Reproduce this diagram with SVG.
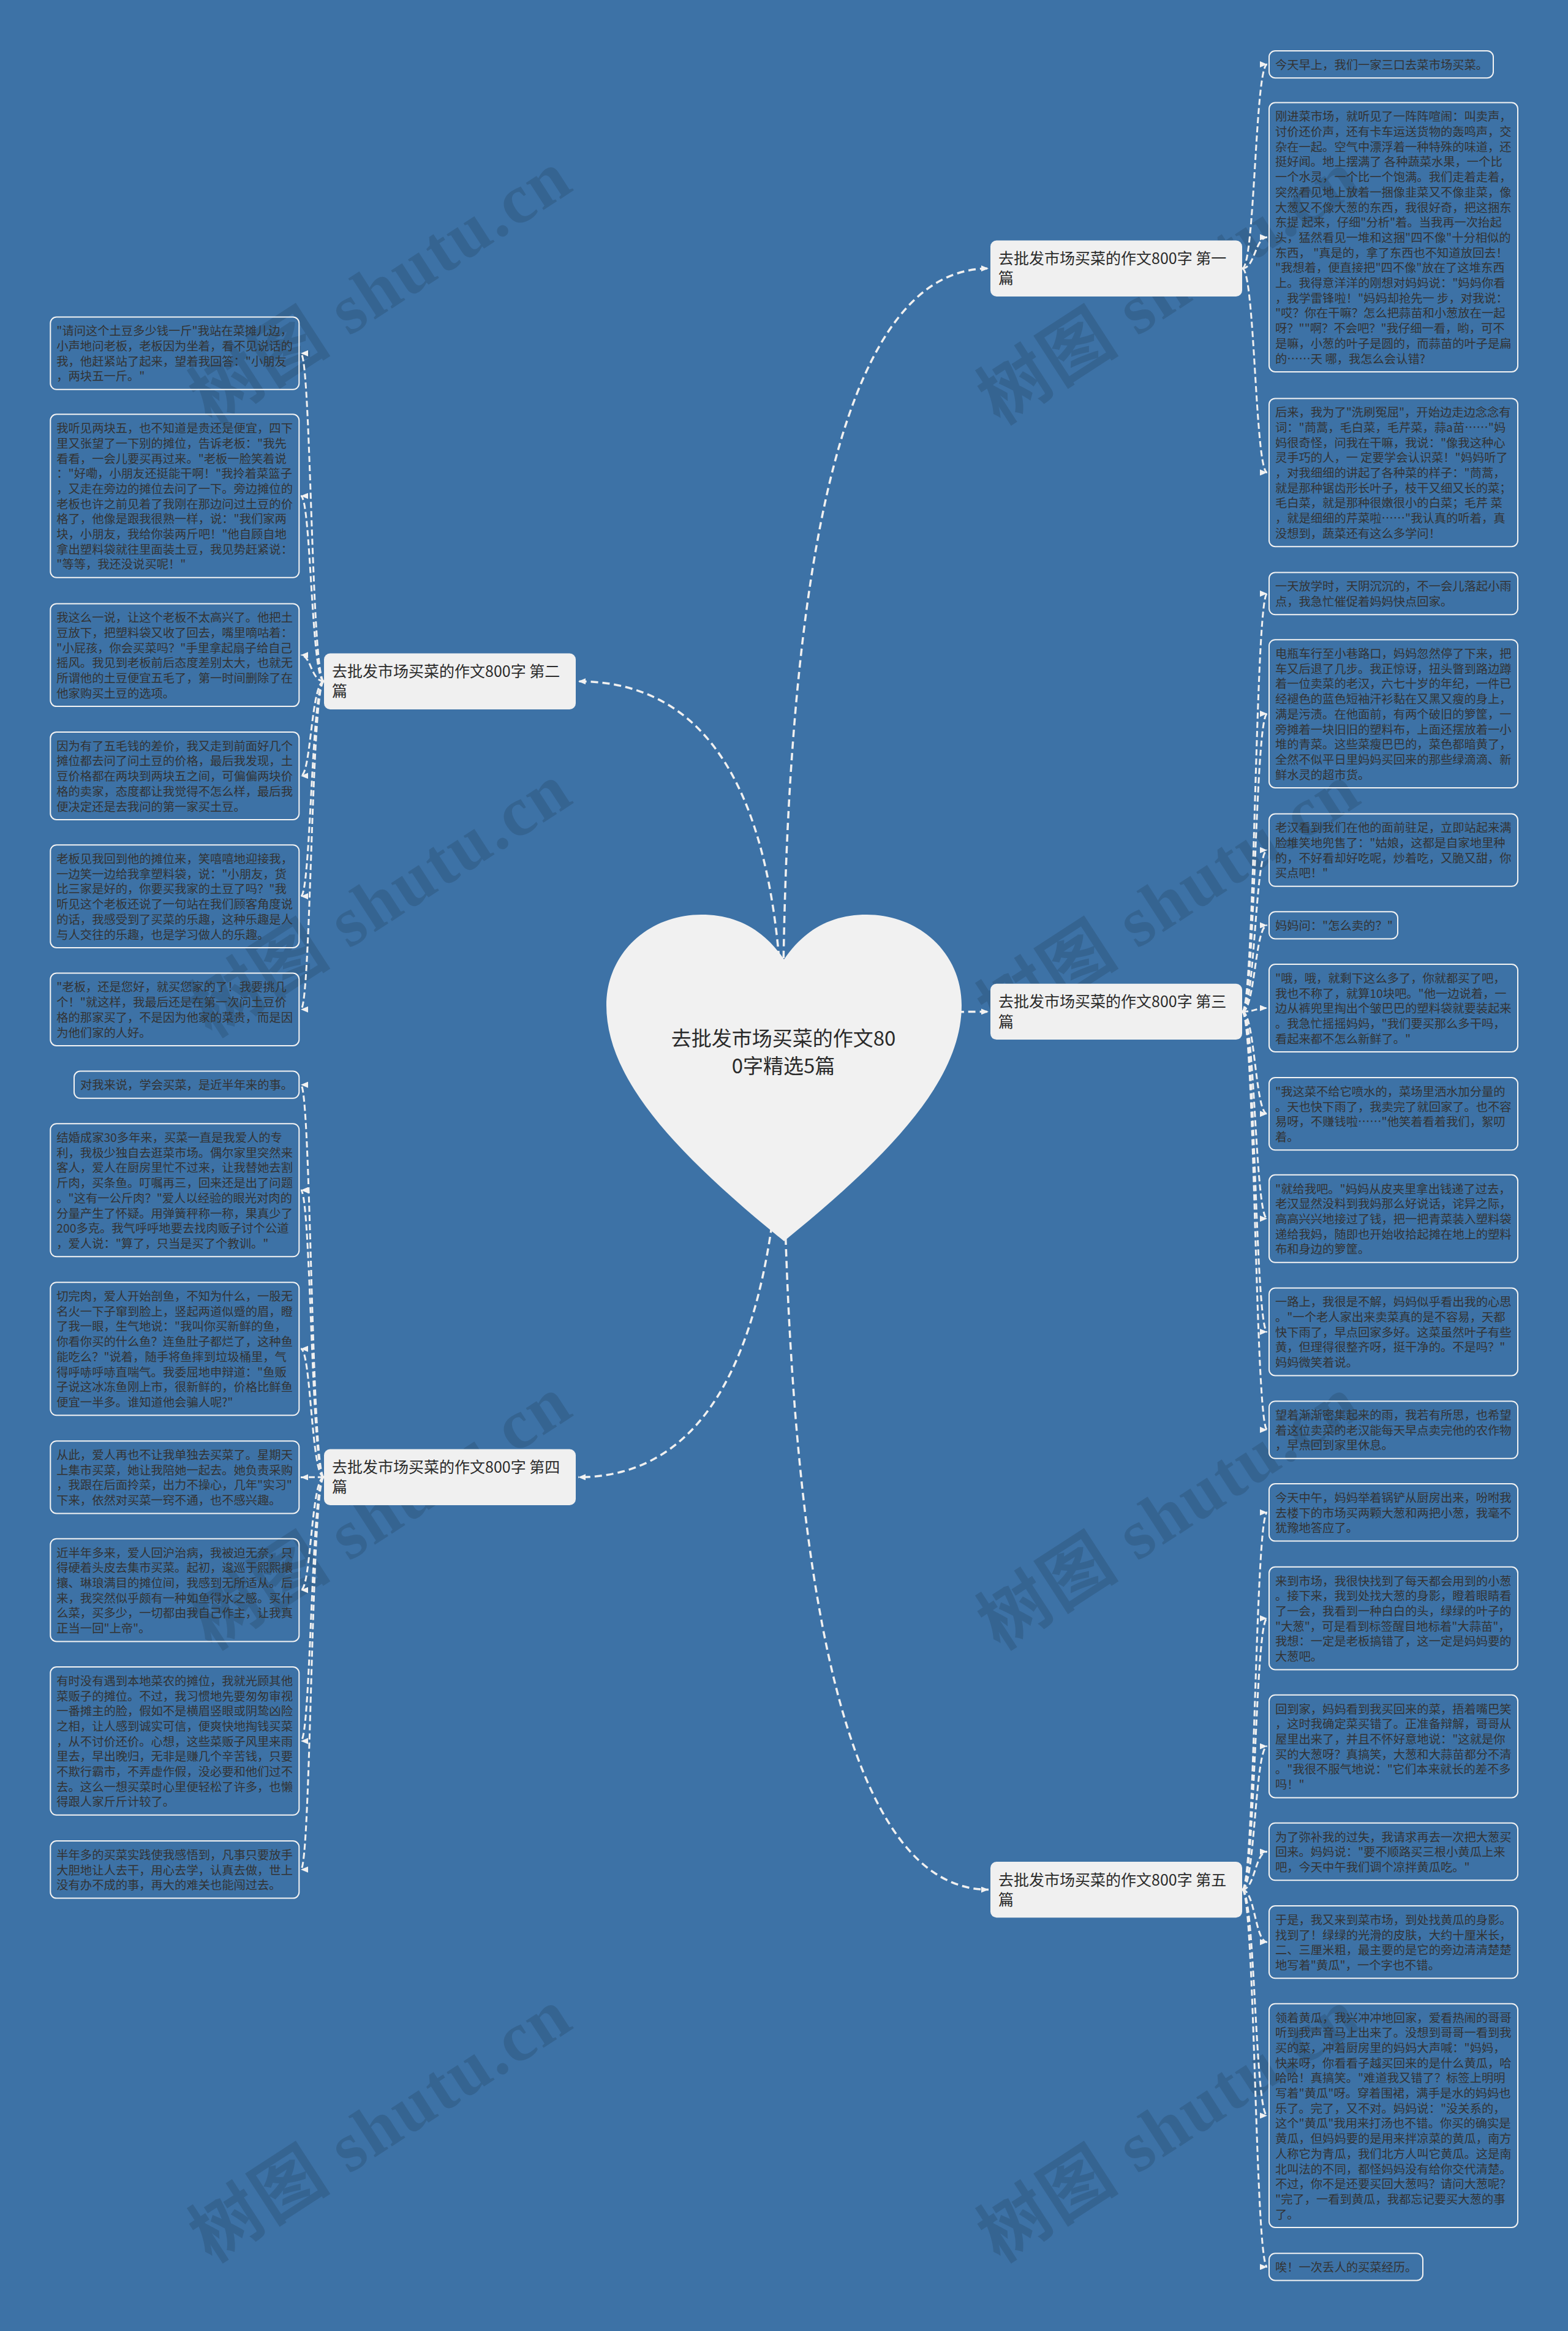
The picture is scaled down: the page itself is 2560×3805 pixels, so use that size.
<svg xmlns="http://www.w3.org/2000/svg" width="2560" height="3805" viewBox="0 0 2560 3805">
<defs>
<style>
.bg{fill:#3d72a6}
.wm{font-family:"Liberation Serif","Noto Sans CJK SC",serif;font-size:115px;font-weight:bold;fill:#000;fill-opacity:0.12;letter-spacing:3px}
.leaf rect{fill:none;stroke:#f3f3f3;stroke-width:2}
.lt{font-family:"Noto Sans CJK SC","Microsoft YaHei",sans-serif;font-size:19.3px;fill:#333}
.branch rect{fill:#f0f0f0}
.bt{font-family:"Noto Sans CJK SC",sans-serif;font-size:25px;fill:#2b2b2b}
.rt{font-family:"Noto Sans CJK SC",sans-serif;font-size:33px;fill:#2a2a2a;text-anchor:middle}
.c{fill:none;stroke:#f0f0f0;stroke-width:3;stroke-dasharray:10 5;marker-end:url(#arr)}
.cr{fill:none;stroke:#f0f0f0;stroke-width:3.5;stroke-dasharray:12 7;marker-end:url(#arr)}
</style>
<marker id="arr" viewBox="0 0 12 10" refX="12" refY="5" markerWidth="12" markerHeight="10" markerUnits="userSpaceOnUse" orient="auto"><path d="M0,0 L12,5 L0,10 z" fill="#f2f2f2"/></marker>
</defs>
<rect class="bg" x="0" y="0" width="2560" height="3805"/>
<g id="watermarks">
<text class="wm" transform="translate(345,695) rotate(-33)">树图 shutu.cn</text>
<text class="wm" transform="translate(345,1695) rotate(-33)">树图 shutu.cn</text>
<text class="wm" transform="translate(345,2695) rotate(-33)">树图 shutu.cn</text>
<text class="wm" transform="translate(345,3695) rotate(-33)">树图 shutu.cn</text>
<text class="wm" transform="translate(1632,695) rotate(-33)">树图 shutu.cn</text>
<text class="wm" transform="translate(1632,1695) rotate(-33)">树图 shutu.cn</text>
<text class="wm" transform="translate(1632,2695) rotate(-33)">树图 shutu.cn</text>
<text class="wm" transform="translate(1632,3695) rotate(-33)">树图 shutu.cn</text>
</g>
<g id="connectors">
<path class="cr" d="M1278,1716 Q1278,438.2 1614,438.2"/>
<path class="cr" d="M1278,1716 Q1278,1651.4 1614,1651.4"/>
<path class="cr" d="M1278,1716 Q1278,3084.6 1614,3084.6"/>
<path class="cr" d="M1278,1716 Q1278,1112.2 944,1112.2"/>
<path class="cr" d="M1278,1716 Q1278,2411.3 944,2411.3"/>
<path class="c" d="M2028,438.2 C2049,438.2 2049,105.1 2069,105.1"/>
<path class="c" d="M2028,438.2 C2049,438.2 2049,387.2 2069,387.2"/>
<path class="c" d="M2028,438.2 C2049,438.2 2049,771.3 2069,771.3"/>
<path class="c" d="M2028,1651.4 C2049,1651.4 2049,968.9 2069,968.9"/>
<path class="c" d="M2028,1651.4 C2049,1651.4 2049,1165.1 2069,1165.1"/>
<path class="c" d="M2028,1651.4 C2049,1651.4 2049,1387.7 2069,1387.7"/>
<path class="c" d="M2028,1651.4 C2049,1651.4 2049,1510.4 2069,1510.4"/>
<path class="c" d="M2028,1651.4 C2049,1651.4 2049,1645.5 2069,1645.5"/>
<path class="c" d="M2028,1651.4 C2049,1651.4 2049,1818.2 2069,1818.2"/>
<path class="c" d="M2028,1651.4 C2049,1651.4 2049,1989.3 2069,1989.3"/>
<path class="c" d="M2028,1651.4 C2049,1651.4 2049,2174 2069,2174"/>
<path class="c" d="M2028,1651.4 C2049,1651.4 2049,2334 2069,2334"/>
<path class="c" d="M2028,3084.6 C2049,3084.6 2049,2468.8 2069,2468.8"/>
<path class="c" d="M2028,3084.6 C2049,3084.6 2049,2641.7 2069,2641.7"/>
<path class="c" d="M2028,3084.6 C2049,3084.6 2049,2850.6 2069,2850.6"/>
<path class="c" d="M2028,3084.6 C2049,3084.6 2049,3022.5 2069,3022.5"/>
<path class="c" d="M2028,3084.6 C2049,3084.6 2049,3170.2 2069,3170.2"/>
<path class="c" d="M2028,3084.6 C2049,3084.6 2049,3453.4 2069,3453.4"/>
<path class="c" d="M2028,3084.6 C2049,3084.6 2049,3700.4 2069,3700.4"/>
<path class="c" d="M529,1112.2 C508,1112.2 508,576.7 491,576.7"/>
<path class="c" d="M529,1112.2 C508,1112.2 508,809.6 491,809.6"/>
<path class="c" d="M529,1112.2 C508,1112.2 508,1069.3 491,1069.3"/>
<path class="c" d="M529,1112.2 C508,1112.2 508,1266.4 491,1266.4"/>
<path class="c" d="M529,1112.2 C508,1112.2 508,1463.1 491,1463.1"/>
<path class="c" d="M529,1112.2 C508,1112.2 508,1647.8 491,1647.8"/>
<path class="c" d="M529,2411.3 C508,2411.3 508,1770.7 491,1770.7"/>
<path class="c" d="M529,2411.3 C508,2411.3 508,1942.8 491,1942.8"/>
<path class="c" d="M529,2411.3 C508,2411.3 508,2201.8 491,2201.8"/>
<path class="c" d="M529,2411.3 C508,2411.3 508,2411.4 491,2411.4"/>
<path class="c" d="M529,2411.3 C508,2411.3 508,2595.6 491,2595.6"/>
<path class="c" d="M529,2411.3 C508,2411.3 508,2841.9 491,2841.9"/>
<path class="c" d="M529,2411.3 C508,2411.3 508,3051.8 491,3051.8"/>
</g>
<g id="root">
<path d="M1280,1566 C1245,1515 1200,1493 1145,1493 C1060,1493 990,1555 990,1641 C990,1760 1100,1880 1280,2026 C1460,1880 1570,1760 1570,1641 C1570,1555 1500,1493 1415,1493 C1360,1493 1315,1515 1280,1566 Z" fill="#f1f1f1"/>
<text class="rt" x="1279" y="1706.5">去批发市场买菜的作文80</text>
<text class="rt" x="1279" y="1751.5">0字精选5篇</text>
</g>
<g id="branch1" class="branch"><rect x="1617" y="392.6" width="411" height="91.3" rx="10"/><text class="bt"><tspan x="1630" y="431.1">去批发市场买菜的作文800字 第一</tspan><tspan x="1630" y="463.4">篇</tspan></text></g>
<g id="branch2" class="branch"><rect x="529" y="1066.6" width="411" height="91.3" rx="10"/><text class="bt"><tspan x="542" y="1105.1">去批发市场买菜的作文800字 第二</tspan><tspan x="542" y="1137.4">篇</tspan></text></g>
<g id="branch3" class="branch"><rect x="1617" y="1605.8" width="411" height="91.3" rx="10"/><text class="bt"><tspan x="1630" y="1644.3">去批发市场买菜的作文800字 第三</tspan><tspan x="1630" y="1676.6">篇</tspan></text></g>
<g id="branch4" class="branch"><rect x="529" y="2365.6" width="411" height="91.3" rx="10"/><text class="bt"><tspan x="542" y="2404.1">去批发市场买菜的作文800字 第四</tspan><tspan x="542" y="2436.4">篇</tspan></text></g>
<g id="branch5" class="branch"><rect x="1617" y="3039" width="411" height="91.3" rx="10"/><text class="bt"><tspan x="1630" y="3077.5">去批发市场买菜的作文800字 第五</tspan><tspan x="1630" y="3109.8">篇</tspan></text></g>
<g id="leaf-a1" class="leaf"><rect x="2072" y="83" width="366" height="44.2" rx="10"/><text class="lt"><tspan x="2082" y="112.8">今天早上，我们一家三口去菜市场买菜。</tspan></text></g>
<g id="leaf-a2" class="leaf"><rect x="2072" y="167.5" width="406" height="439.4" rx="10"/><text class="lt" x="2082" y="197.3"><tspan x="2082" dy="0">刚进菜市场，就听见了一阵阵喧闹：叫卖声，</tspan><tspan x="2082" dy="24.7">讨价还价声，还有卡车运送货物的轰鸣声，交</tspan><tspan x="2082" dy="24.7">杂在一起。空气中漂浮着一种特殊的味道，还</tspan><tspan x="2082" dy="24.7">挺好闻。地上摆满了 各种蔬菜水果，一个比</tspan><tspan x="2082" dy="24.7">一个水灵，一个比一个饱满。我们走着走着，</tspan><tspan x="2082" dy="24.7">突然看见地上放着一捆像韭菜又不像韭菜，像</tspan><tspan x="2082" dy="24.7">大葱又不像大葱的东西，我很好奇，把这捆东</tspan><tspan x="2082" dy="24.7">东提 起来，仔细"分析"着。当我再一次抬起</tspan><tspan x="2082" dy="24.7">头，猛然看见一堆和这捆"四不像"十分相似的</tspan><tspan x="2082" dy="24.7">东西， "真是的，拿了东西也不知道放回去！</tspan><tspan x="2082" dy="24.7">"我想着，便直接把"四不像"放在了这堆东西</tspan><tspan x="2082" dy="24.7">上。我得意洋洋的刚想对妈妈说："妈妈你看</tspan><tspan x="2082" dy="24.7">，我学雷锋啦！"妈妈却抢先一 步，对我说：</tspan><tspan x="2082" dy="24.7">"哎？你在干嘛？怎么把蒜苗和小葱放在一起</tspan><tspan x="2082" dy="24.7">呀？""啊？不会吧？"我仔细一看，哟，可不</tspan><tspan x="2082" dy="24.7">是嘛，小葱的叶子是圆的，而蒜苗的叶子是扁</tspan><tspan x="2082" dy="24.7">的……天 哪，我怎么会认错?</tspan></text></g>
<g id="leaf-a3" class="leaf"><rect x="2072" y="650.4" width="406" height="241.8" rx="10"/><text class="lt" x="2082" y="680.2"><tspan x="2082" dy="0">后来，我为了"洗刷冤屈"，开始边走边念念有</tspan><tspan x="2082" dy="24.7">词："茼蒿，毛白菜，毛芹菜，蒜a苗……"妈</tspan><tspan x="2082" dy="24.7">妈很奇怪，问我在干嘛，我说："像我这种心</tspan><tspan x="2082" dy="24.7">灵手巧的人，一 定要学会认识菜！"妈妈听了</tspan><tspan x="2082" dy="24.7">，对我细细的讲起了各种菜的样子："茼蒿，</tspan><tspan x="2082" dy="24.7">就是那种锯齿形长叶子，枝干又细又长的菜；</tspan><tspan x="2082" dy="24.7">毛白菜，就是那种很嫩很小的白菜；毛芹 菜</tspan><tspan x="2082" dy="24.7">，就是细细的芹菜啦……"我认真的听着，真</tspan><tspan x="2082" dy="24.7">没想到，蔬菜还有这么多学问！</tspan></text></g>
<g id="leaf-a4" class="leaf"><rect x="2072" y="934.4" width="406" height="68.9" rx="10"/><text class="lt" x="2082" y="964.2"><tspan x="2082" dy="0">一天放学时，天阴沉沉的，不一会儿落起小雨</tspan><tspan x="2082" dy="24.7">点，我急忙催促着妈妈快点回家。</tspan></text></g>
<g id="leaf-a5" class="leaf"><rect x="2072" y="1044.2" width="406" height="241.8" rx="10"/><text class="lt" x="2082" y="1074"><tspan x="2082" dy="0">电瓶车行至小巷路口，妈妈忽然停了下来，把</tspan><tspan x="2082" dy="24.7">车又后退了几步。我正惊讶，扭头瞥到路边蹲</tspan><tspan x="2082" dy="24.7">着一位卖菜的老汉，六七十岁的年纪，一件已</tspan><tspan x="2082" dy="24.7">经褪色的蓝色短袖汗衫黏在又黑又瘦的身上，</tspan><tspan x="2082" dy="24.7">满是污渍。在他面前，有两个破旧的箩筐，一</tspan><tspan x="2082" dy="24.7">旁摊着一块旧旧的塑料布，上面还摆放着一小</tspan><tspan x="2082" dy="24.7">堆的青菜。这些菜瘦巴巴的，菜色都暗黄了，</tspan><tspan x="2082" dy="24.7">全然不似平日里妈妈买回来的那些绿滴滴、新</tspan><tspan x="2082" dy="24.7">鲜水灵的超市货。</tspan></text></g>
<g id="leaf-a6" class="leaf"><rect x="2072" y="1328.5" width="406" height="118.3" rx="10"/><text class="lt" x="2082" y="1358.3"><tspan x="2082" dy="0">老汉看到我们在他的面前驻足，立即站起来满</tspan><tspan x="2082" dy="24.7">脸堆笑地兜售了："姑娘，这都是自家地里种</tspan><tspan x="2082" dy="24.7">的，不好看却好吃呢，炒着吃，又脆又甜，你</tspan><tspan x="2082" dy="24.7">买点吧！"</tspan></text></g>
<g id="leaf-a7" class="leaf"><rect x="2072" y="1488.3" width="210" height="44.2" rx="10"/><text class="lt"><tspan x="2082" y="1518.1">妈妈问："怎么卖的？"</tspan></text></g>
<g id="leaf-a8" class="leaf"><rect x="2072" y="1574" width="406" height="143" rx="10"/><text class="lt" x="2082" y="1603.8"><tspan x="2082" dy="0">"哦，哦，就剩下这么多了，你就都买了吧，</tspan><tspan x="2082" dy="24.7">我也不称了，就算10块吧。"他一边说着，一</tspan><tspan x="2082" dy="24.7">边从裤兜里掏出个皱巴巴的塑料袋就要装起来</tspan><tspan x="2082" dy="24.7">。我急忙摇摇妈妈，"我们要买那么多干吗，</tspan><tspan x="2082" dy="24.7">看起来都不怎么新鲜了。"</tspan></text></g>
<g id="leaf-a9" class="leaf"><rect x="2072" y="1759" width="406" height="118.3" rx="10"/><text class="lt" x="2082" y="1788.8"><tspan x="2082" dy="0">"我这菜不给它喷水的，菜场里洒水加分量的</tspan><tspan x="2082" dy="24.7">。天也快下雨了，我卖完了就回家了。也不容</tspan><tspan x="2082" dy="24.7">易呀，不赚钱啦……"他笑着看着我们，絮叨</tspan><tspan x="2082" dy="24.7">着。</tspan></text></g>
<g id="leaf-a10" class="leaf"><rect x="2072" y="1917.8" width="406" height="143" rx="10"/><text class="lt" x="2082" y="1947.6"><tspan x="2082" dy="0">"就给我吧。"妈妈从皮夹里拿出钱递了过去，</tspan><tspan x="2082" dy="24.7">老汉显然没料到我妈那么好说话，诧异之际，</tspan><tspan x="2082" dy="24.7">高高兴兴地接过了钱，把一把青菜装入塑料袋</tspan><tspan x="2082" dy="24.7">递给我妈，随即也开始收拾起摊在地上的塑料</tspan><tspan x="2082" dy="24.7">布和身边的箩筐。</tspan></text></g>
<g id="leaf-a11" class="leaf"><rect x="2072" y="2102.5" width="406" height="143" rx="10"/><text class="lt" x="2082" y="2132.3"><tspan x="2082" dy="0">一路上，我很是不解，妈妈似乎看出我的心思</tspan><tspan x="2082" dy="24.7">。"一个老人家出来卖菜真的是不容易，天都</tspan><tspan x="2082" dy="24.7">快下雨了，早点回家多好。这菜虽然叶子有些</tspan><tspan x="2082" dy="24.7">黄，但理得很整齐呀，挺干净的。不是吗？"</tspan><tspan x="2082" dy="24.7">妈妈微笑着说。</tspan></text></g>
<g id="leaf-a12" class="leaf"><rect x="2072" y="2287.2" width="406" height="93.6" rx="10"/><text class="lt" x="2082" y="2317"><tspan x="2082" dy="0">望着渐渐密集起来的雨，我若有所思，也希望</tspan><tspan x="2082" dy="24.7">着这位卖菜的老汉能每天早点卖完他的农作物</tspan><tspan x="2082" dy="24.7">，早点回到家里休息。</tspan></text></g>
<g id="leaf-a13" class="leaf"><rect x="2072" y="2422" width="406" height="93.6" rx="10"/><text class="lt" x="2082" y="2451.8"><tspan x="2082" dy="0">今天中午，妈妈举着锅铲从厨房出来，吩咐我</tspan><tspan x="2082" dy="24.7">去楼下的市场买两颗大葱和两把小葱，我毫不</tspan><tspan x="2082" dy="24.7">犹豫地答应了。</tspan></text></g>
<g id="leaf-a14" class="leaf"><rect x="2072" y="2557.8" width="406" height="167.7" rx="10"/><text class="lt" x="2082" y="2587.6"><tspan x="2082" dy="0">来到市场，我很快找到了每天都会用到的小葱</tspan><tspan x="2082" dy="24.7">。接下来，我到处找大葱的身影，瞪着眼睛看</tspan><tspan x="2082" dy="24.7">了一会，我看到一种白白的头，绿绿的叶子的</tspan><tspan x="2082" dy="24.7">"大葱"，可是看到标签醒目地标着"大蒜苗"，</tspan><tspan x="2082" dy="24.7">我想：一定是老板搞错了，这一定是妈妈要的</tspan><tspan x="2082" dy="24.7">大葱吧。</tspan></text></g>
<g id="leaf-a15" class="leaf"><rect x="2072" y="2766.7" width="406" height="167.7" rx="10"/><text class="lt" x="2082" y="2796.5"><tspan x="2082" dy="0">回到家，妈妈看到我买回来的菜，捂着嘴巴笑</tspan><tspan x="2082" dy="24.7">，这时我确定菜买错了。正准备辩解，哥哥从</tspan><tspan x="2082" dy="24.7">屋里出来了，并且不怀好意地说："这就是你</tspan><tspan x="2082" dy="24.7">买的大葱呀？真搞笑，大葱和大蒜苗都分不清</tspan><tspan x="2082" dy="24.7">。"我很不服气地说："它们本来就长的差不多</tspan><tspan x="2082" dy="24.7">吗！"</tspan></text></g>
<g id="leaf-a16" class="leaf"><rect x="2072" y="2975.7" width="406" height="93.6" rx="10"/><text class="lt" x="2082" y="3005.5"><tspan x="2082" dy="0">为了弥补我的过失，我请求再去一次把大葱买</tspan><tspan x="2082" dy="24.7">回来。妈妈说："要不顺路买三根小黄瓜上来</tspan><tspan x="2082" dy="24.7">吧，今天中午我们调个凉拌黄瓜吃。"</tspan></text></g>
<g id="leaf-a17" class="leaf"><rect x="2072" y="3111" width="406" height="118.3" rx="10"/><text class="lt" x="2082" y="3140.8"><tspan x="2082" dy="0">于是，我又来到菜市场，到处找黄瓜的身影。</tspan><tspan x="2082" dy="24.7">找到了！绿绿的光滑的皮肤，大约十厘米长，</tspan><tspan x="2082" dy="24.7">二、三厘米粗，最主要的是它的旁边清清楚楚</tspan><tspan x="2082" dy="24.7">地写着"黄瓜"，一个字也不错。</tspan></text></g>
<g id="leaf-a18" class="leaf"><rect x="2072" y="3270.7" width="406" height="365.3" rx="10"/><text class="lt" x="2082" y="3300.5"><tspan x="2082" dy="0">领着黄瓜，我兴冲冲地回家，爱看热闹的哥哥</tspan><tspan x="2082" dy="24.7">听到我声音马上出来了。没想到哥哥一看到我</tspan><tspan x="2082" dy="24.7">买的菜，冲着厨房里的妈妈大声喊："妈妈，</tspan><tspan x="2082" dy="24.7">快来呀，你看看子越买回来的是什么黄瓜，哈</tspan><tspan x="2082" dy="24.7">哈哈！真搞笑。"难道我又错了？标签上明明</tspan><tspan x="2082" dy="24.7">写着"黄瓜"呀。穿着围裙，满手是水的妈妈也</tspan><tspan x="2082" dy="24.7">乐了。完了，又不对。妈妈说："没关系的，</tspan><tspan x="2082" dy="24.7">这个"黄瓜"我用来打汤也不错。你买的确实是</tspan><tspan x="2082" dy="24.7">黄瓜，但妈妈要的是用来拌凉菜的黄瓜，南方</tspan><tspan x="2082" dy="24.7">人称它为青瓜，我们北方人叫它黄瓜。这是南</tspan><tspan x="2082" dy="24.7">北叫法的不同，都怪妈妈没有给你交代清楚。</tspan><tspan x="2082" dy="24.7">不过，你不是还要买回大葱吗？请问大葱呢？</tspan><tspan x="2082" dy="24.7">"完了，一看到黄瓜，我都忘记要买大葱的事</tspan><tspan x="2082" dy="24.7">了。</tspan></text></g>
<g id="leaf-a19" class="leaf"><rect x="2072" y="3678.3" width="251" height="44.2" rx="10"/><text class="lt"><tspan x="2082" y="3708.1">唉！一次丢人的买菜经历。</tspan></text></g>
<g id="leaf-b1" class="leaf"><rect x="82.3" y="517.5" width="406" height="118.3" rx="10"/><text class="lt" x="92.3" y="547.3"><tspan x="92.3" dy="0">"请问这个土豆多少钱一斤"我站在菜摊儿边，</tspan><tspan x="92.3" dy="24.7">小声地问老板，老板因为坐着，看不见说话的</tspan><tspan x="92.3" dy="24.7">我，他赶紧站了起来，望着我回答："小朋友</tspan><tspan x="92.3" dy="24.7">，两块五一斤。"</tspan></text></g>
<g id="leaf-b2" class="leaf"><rect x="82.3" y="676.3" width="406" height="266.5" rx="10"/><text class="lt" x="92.3" y="706.1"><tspan x="92.3" dy="0">我听见两块五，也不知道是贵还是便宜，四下</tspan><tspan x="92.3" dy="24.7">里又张望了一下别的摊位，告诉老板："我先</tspan><tspan x="92.3" dy="24.7">看看，一会儿要买再过来。"老板一脸笑着说</tspan><tspan x="92.3" dy="24.7">："好嘞，小朋友还挺能干啊！"我拎着菜篮子</tspan><tspan x="92.3" dy="24.7">，又走在旁边的摊位去问了一下。旁边摊位的</tspan><tspan x="92.3" dy="24.7">老板也许之前见着了我刚在那边问过土豆的价</tspan><tspan x="92.3" dy="24.7">格了，他像是跟我很熟一样，说："我们家两</tspan><tspan x="92.3" dy="24.7">块，小朋友，我给你装两斤吧！"他自顾自地</tspan><tspan x="92.3" dy="24.7">拿出塑料袋就往里面装土豆，我见势赶紧说：</tspan><tspan x="92.3" dy="24.7">"等等，我还没说买呢！"</tspan></text></g>
<g id="leaf-b3" class="leaf"><rect x="82.3" y="985.4" width="406" height="167.7" rx="10"/><text class="lt" x="92.3" y="1015.2"><tspan x="92.3" dy="0">我这么一说，让这个老板不太高兴了。他把土</tspan><tspan x="92.3" dy="24.7">豆放下，把塑料袋又收了回去，嘴里嘀咕着：</tspan><tspan x="92.3" dy="24.7">"小屁孩，你会买菜吗？"手里拿起扇子给自己</tspan><tspan x="92.3" dy="24.7">摇风。我见到老板前后态度差别太大，也就无</tspan><tspan x="92.3" dy="24.7">所谓他的土豆便宜五毛了，第一时间删除了在</tspan><tspan x="92.3" dy="24.7">他家购买土豆的选项。</tspan></text></g>
<g id="leaf-b4" class="leaf"><rect x="82.3" y="1194.9" width="406" height="143" rx="10"/><text class="lt" x="92.3" y="1224.7"><tspan x="92.3" dy="0">因为有了五毛钱的差价，我又走到前面好几个</tspan><tspan x="92.3" dy="24.7">摊位都去问了问土豆的价格，最后我发现，土</tspan><tspan x="92.3" dy="24.7">豆价格都在两块到两块五之间，可偏偏两块价</tspan><tspan x="92.3" dy="24.7">格的卖家，态度都让我觉得不怎么样，最后我</tspan><tspan x="92.3" dy="24.7">便决定还是去我问的第一家买土豆。</tspan></text></g>
<g id="leaf-b5" class="leaf"><rect x="82.3" y="1379.2" width="406" height="167.7" rx="10"/><text class="lt" x="92.3" y="1409"><tspan x="92.3" dy="0">老板见我回到他的摊位来，笑嘻嘻地迎接我，</tspan><tspan x="92.3" dy="24.7">一边笑一边给我拿塑料袋，说："小朋友，货</tspan><tspan x="92.3" dy="24.7">比三家是好的，你要买我家的土豆了吗？"我</tspan><tspan x="92.3" dy="24.7">听见这个老板还说了一句站在我们顾客角度说</tspan><tspan x="92.3" dy="24.7">的话，我感受到了买菜的乐趣，这种乐趣是人</tspan><tspan x="92.3" dy="24.7">与人交往的乐趣，也是学习做人的乐趣。</tspan></text></g>
<g id="leaf-b6" class="leaf"><rect x="82.3" y="1588.6" width="406" height="118.3" rx="10"/><text class="lt" x="92.3" y="1618.4"><tspan x="92.3" dy="0">"老板，还是您好，就买您家的了！我要挑几</tspan><tspan x="92.3" dy="24.7">个！"就这样，我最后还是在第一次问土豆价</tspan><tspan x="92.3" dy="24.7">格的那家买了，不是因为他家的菜贵，而是因</tspan><tspan x="92.3" dy="24.7">为他们家的人好。</tspan></text></g>
<g id="leaf-b7" class="leaf"><rect x="121" y="1748.6" width="367.3" height="44.2" rx="10"/><text class="lt"><tspan x="131" y="1778.4">对我来说，学会买菜，是近半年来的事。</tspan></text></g>
<g id="leaf-b8" class="leaf"><rect x="82.3" y="1834.2" width="406" height="217.1" rx="10"/><text class="lt" x="92.3" y="1864"><tspan x="92.3" dy="0">结婚成家30多年来，买菜一直是我爱人的专</tspan><tspan x="92.3" dy="24.7">利，我极少独自去逛菜市场。偶尔家里突然来</tspan><tspan x="92.3" dy="24.7">客人，爱人在厨房里忙不过来，让我替她去割</tspan><tspan x="92.3" dy="24.7">斤肉，买条鱼。叮嘱再三，回来还是出了问题</tspan><tspan x="92.3" dy="24.7">。"这有一公斤肉？"爱人以经验的眼光对肉的</tspan><tspan x="92.3" dy="24.7">分量产生了怀疑。用弹簧秤称一称，果真少了</tspan><tspan x="92.3" dy="24.7">200多克。我气呼呼地要去找肉贩子讨个公道</tspan><tspan x="92.3" dy="24.7">，爱人说："算了，只当是买了个教训。"</tspan></text></g>
<g id="leaf-b9" class="leaf"><rect x="82.3" y="2093.2" width="406" height="217.1" rx="10"/><text class="lt" x="92.3" y="2123"><tspan x="92.3" dy="0">切完肉，爱人开始剖鱼，不知为什么，一股无</tspan><tspan x="92.3" dy="24.7">名火一下子窜到脸上，竖起两道似蹙的眉，瞪</tspan><tspan x="92.3" dy="24.7">了我一眼，生气地说："我叫你买新鲜的鱼，</tspan><tspan x="92.3" dy="24.7">你看你买的什么鱼？连鱼肚子都烂了，这种鱼</tspan><tspan x="92.3" dy="24.7">能吃么？"说着，随手将鱼摔到垃圾桶里，气</tspan><tspan x="92.3" dy="24.7">得呼哧呼哧直喘气。我委屈地申辩道："鱼贩</tspan><tspan x="92.3" dy="24.7">子说这冰冻鱼刚上市，很新鲜的，价格比鲜鱼</tspan><tspan x="92.3" dy="24.7">便宜一半多。谁知道他会骗人呢?"</tspan></text></g>
<g id="leaf-b10" class="leaf"><rect x="82.3" y="2352.2" width="406" height="118.3" rx="10"/><text class="lt" x="92.3" y="2382"><tspan x="92.3" dy="0">从此，爱人再也不让我单独去买菜了。星期天</tspan><tspan x="92.3" dy="24.7">上集市买菜，她让我陪她一起去。她负责采购</tspan><tspan x="92.3" dy="24.7">，我跟在后面拎菜，出力不操心，几年"实习"</tspan><tspan x="92.3" dy="24.7">下来，依然对买菜一窍不通，也不感兴趣。</tspan></text></g>
<g id="leaf-b11" class="leaf"><rect x="82.3" y="2511.7" width="406" height="167.7" rx="10"/><text class="lt" x="92.3" y="2541.5"><tspan x="92.3" dy="0">近半年多来，爱人回沪治病，我被迫无奈，只</tspan><tspan x="92.3" dy="24.7">得硬着头皮去集市买菜。起初，逡巡于熙熙攘</tspan><tspan x="92.3" dy="24.7">攘、琳琅满目的摊位间，我感到无所适从。后</tspan><tspan x="92.3" dy="24.7">来，我突然似乎颇有一种如鱼得水之感。买什</tspan><tspan x="92.3" dy="24.7">么菜，买多少，一切都由我自己作主，让我真</tspan><tspan x="92.3" dy="24.7">正当一回"上帝"。</tspan></text></g>
<g id="leaf-b12" class="leaf"><rect x="82.3" y="2721" width="406" height="241.8" rx="10"/><text class="lt" x="92.3" y="2750.8"><tspan x="92.3" dy="0">有时没有遇到本地菜农的摊位，我就光顾其他</tspan><tspan x="92.3" dy="24.7">菜贩子的摊位。不过，我习惯地先要匆匆审视</tspan><tspan x="92.3" dy="24.7">一番摊主的脸，假如不是横眉竖眼或阴鸷凶险</tspan><tspan x="92.3" dy="24.7">之相，让人感到诚实可信，便爽快地掏钱买菜</tspan><tspan x="92.3" dy="24.7">，从不讨价还价。心想，这些菜贩子风里来雨</tspan><tspan x="92.3" dy="24.7">里去，早出晚归，无非是赚几个辛苦钱，只要</tspan><tspan x="92.3" dy="24.7">不欺行霸市，不弄虚作假，没必要和他们过不</tspan><tspan x="92.3" dy="24.7">去。这么一想买菜时心里便轻松了许多，也懒</tspan><tspan x="92.3" dy="24.7">得跟人家斤斤计较了。</tspan></text></g>
<g id="leaf-b13" class="leaf"><rect x="82.3" y="3005" width="406" height="93.6" rx="10"/><text class="lt" x="92.3" y="3034.8"><tspan x="92.3" dy="0">半年多的买菜实践使我感悟到，凡事只要放手</tspan><tspan x="92.3" dy="24.7">大胆地让人去干，用心去学，认真去做，世上</tspan><tspan x="92.3" dy="24.7">没有办不成的事，再大的难关也能闯过去。</tspan></text></g>
</svg>
